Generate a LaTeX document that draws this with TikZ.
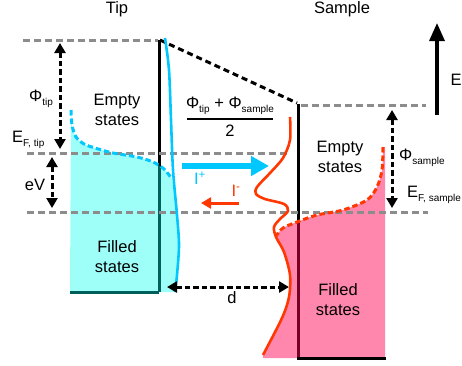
\documentclass[tikz,border=0pt]{standalone}
\usepackage{fontspec}
\setmainfont{Liberation Sans}
\usetikzlibrary{arrows.meta}

\definecolor{levelgray}{RGB}{140,140,140}
\definecolor{tipcyan}{RGB}{0,200,255}
\definecolor{tipfill}{RGB}{0,255,238}
\definecolor{samplered}{RGB}{255,55,0}
\definecolor{samplefill}{RGB}{255,0,80}
\definecolor{darkteal}{RGB}{0,95,90}

\newcommand{\lowsub}[1]{\raisebox{-4pt}{\fontsize{10}{10}\selectfont #1}}

\tikzset{
  level/.style={levelgray, line width=3pt, dash pattern=on 7pt off 4pt},
  wall/.style={black, line width=3pt},
  gap/.style={{Triangle[length=10pt,width=11pt]}-{Triangle[length=10pt,width=11pt]},
              line width=3pt, dash pattern=on 5.5pt off 3pt},
  fermi/.style={line width=3pt, dash pattern=on 5.5pt off 3pt},
  dos/.style={line width=2.6pt},
  lbl/.style={font=\fontsize{16.5}{20}\selectfont, align=center, inner sep=0pt},
}

\begin{document}
\begin{tikzpicture}[x=1pt, y=-1pt]
\useasboundingbox (0,0) rectangle (462,365);

% electrode walls and the vacuum barrier
\draw[wall] (159,40) -- (159,292);
\draw[wall] (298,104) -- (298,358);
\draw[line width=3pt, dash pattern=on 6pt off 4pt] (160,40) -- (297,103);

% occupied states of the tip
\fill[tipfill, opacity=0.38]
  plot[smooth] coordinates {(71,110) (72,125) (76,137) (84,144) (95,148) (113,153) (137,157) (153,162) (164,169) (172,179)}
  -- plot[smooth] coordinates {(173,185) (177,215) (179,245) (177,275) (175,292)}
  -- (70,292) -- cycle;

% occupied states of the sample
\fill[samplefill, opacity=0.47]
  plot[smooth] coordinates {(276,236) (284,252) (290,275) (289,297) (282,318) (263,356)}
  -- (263,358) -- (385,358) -- (385,147)
  -- plot[smooth] coordinates {(383,147) (382,170) (377,187) (367,200) (343,210) (317,215) (297,222) (283,228) (276,236)}
  -- cycle;

\draw[darkteal, line width=3pt] (70,292) -- (159,292);
\draw[wall] (297,358) -- (386,358);

% energy levels
\draw[level] (23,40) -- (158,40);
\draw[level] (301,105) -- (426,105);
\draw[level] (27,153) -- (287,153);
\draw[level] (27,212) -- (428,212);

% Fermi edges and densities of states
\draw[tipcyan, fermi] plot[smooth] coordinates {(71,110) (72,125) (76,137) (84,144) (95,148) (113,153) (137,157) (153,162) (164,169) (172,179)};
\draw[tipcyan, dos] plot[smooth] coordinates {(165,38) (169,70) (171,120) (173,170) (177,215) (179,245) (177,275) (175,292)};
\draw[samplered, fermi] plot[smooth] coordinates {(383,147) (382,170) (377,187) (367,200) (343,210) (317,215) (297,222) (283,228) (276,236)};
\draw[samplered, dos] plot[smooth] coordinates {(290,117) (290,140) (283,158) (270,173) (257,187) (256,194) (265,199) (284,204) (288,211) (280,219) (274,227) (276,237) (284,252) (290,275) (289,297) (282,318) (263,355)};

% arrow end points
\coordinate (vacT) at (60,43);
\coordinate (efT) at (60,149);
\coordinate (evTop) at (52,157);
\coordinate (evBot) at (52,208);
\coordinate (vacS) at (392,110);
\coordinate (efS) at (392,208);
\coordinate (dL) at (167,287);
\coordinate (dR) at (289,287);
\coordinate (eTail) at (437,115);
\coordinate (eHead) at (437,23);
\coordinate (ipTail) at (182,166);
\coordinate (ipHead) at (269,166);
\coordinate (imTail) at (239,203);
\coordinate (imHead) at (201,203);

\draw[gap] (vacT) -- (efT);
\draw[gap] (evTop) -- (evBot);
\draw[gap] (vacS) -- (efS);
\draw[gap] (dL) -- (dR);
\draw[line width=3.2pt, -{Triangle[length=18pt,width=15pt]}] (eTail) -- (eHead);
\draw[tipcyan, line width=6pt, -{Triangle[length=18pt,width=19pt]}] (ipTail) -- (ipHead);
\draw[samplered, line width=3pt, -{Triangle[length=10pt,width=11pt]}] (imTail) -- (imHead);

% labels
\node[lbl] (tipT) at (117,9) {Tip};
\node[lbl] (sampT) at (342,9) {Sample};
\node[lbl] (eAx) at (456,80) {E};
\node[lbl] (emptyT) at (117,110) {Empty\\states};
\node[lbl] (filledT) at (117,257) {Filled\\states};
\node[lbl] (emptyS) at (340,157) {Empty\\states};
\node[lbl] (filledS) at (338,300) {Filled\\states};
\node[lbl] (phiT) at (41,99) {Φ\lowsub{tip}};
\node[lbl, anchor=west] (efTl) at (12,140) {E\lowsub{F, tip}};
\node[lbl] (evl) at (35,185) {eV};
\node[lbl, anchor=west] (phiS) at (399,158) {Φ\lowsub{sample}};
\node[lbl, anchor=west] (efSl) at (407,195) {E\lowsub{F, sample}};
\node[lbl] (dl) at (232,298) {d};
\node[lbl] (num) at (230,106) {Φ\lowsub{tip} + Φ\lowsub{sample}};
\node[lbl] (den) at (230,131) {2};
\draw[line width=1.3pt] (187,119) -- (273,119);
\node[lbl, tipcyan] (ipl) at (200,178) {I\textsuperscript{+}};
\node[lbl, samplered] (iml) at (236,191) {I\textsuperscript{-}};
\end{tikzpicture}
\end{document}
